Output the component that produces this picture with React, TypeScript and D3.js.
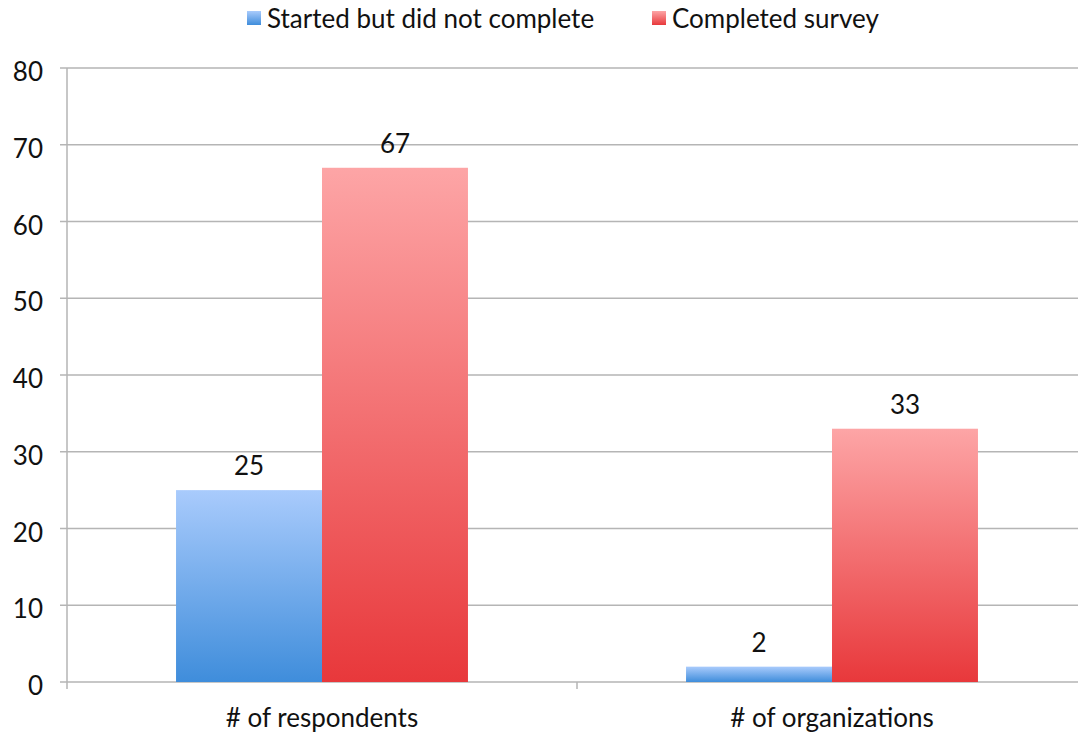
import React, { useEffect, useRef } from "react";
import * as d3 from "d3";

const categories = ["# of respondents", "# of organizations"];
const seriesNames = ["Started but did not complete", "Completed survey"];
const startedValues = [25, 2];
const completedValues = [67, 33];
const yTicks = [0, 10, 20, 30, 40, 50, 60, 70, 80];

const W = 1078;
const H = 733;
const FONT = "Lato, 'Open Sans', sans-serif";
const FS = 26;

export default function App() {
  const ref = useRef<SVGSVGElement>(null);

  useEffect(() => {
    const svg = d3.select(ref.current);
    svg.selectAll("*").remove();

    const left = 67;
    const right = 1087;
    const top = 68;
    const bottom = 682;

    const y = d3.scaleLinear().domain([0, 80]).range([bottom, top]);
    const x0 = d3.scaleBand().domain(categories).range([left, right]).paddingInner(0).paddingOuter(0);
    const x1 = d3
      .scaleBand()
      .domain(seriesNames)
      .range([0, x0.bandwidth()])
      .paddingOuter(0.747)
      .paddingInner(0);

    const defs = svg.append("defs");
    const grads = [
      { id: "gBlue", top: "#a9cbfc", bottom: "#3f8ddb" },
      { id: "gRed", top: "#fda5a6", bottom: "#e8383b" },
    ];
    grads.forEach((g) => {
      const lg = defs
        .append("linearGradient")
        .attr("id", g.id)
        .attr("x1", 0)
        .attr("y1", 0)
        .attr("x2", 0)
        .attr("y2", 1);
      lg.append("stop").attr("offset", "0%").attr("stop-color", g.top);
      lg.append("stop").attr("offset", "100%").attr("stop-color", g.bottom);
    });

    // gridlines
    svg
      .append("g")
      .selectAll("line")
      .data(yTicks)
      .join("line")
      .attr("x1", left - 7)
      .attr("x2", W)
      .attr("y1", (d) => y(d))
      .attr("y2", (d) => y(d))
      .attr("stroke", "#b5b5b5")
      .attr("stroke-width", 1.5);

    // y axis line
    svg
      .append("line")
      .attr("x1", left)
      .attr("x2", left)
      .attr("y1", top)
      .attr("y2", bottom + 7)
      .attr("stroke", "#b5b5b5")
      .attr("stroke-width", 1.5);

    // x middle tick
    svg
      .append("g")
      .selectAll("line")
      .data(categories.slice(1))
      .join("line")
      .attr("x1", (d) => x0(d)!)
      .attr("x2", (d) => x0(d)!)
      .attr("y1", bottom)
      .attr("y2", bottom + 7)
      .attr("stroke", "#b5b5b5")
      .attr("stroke-width", 1.5);

    // y tick labels
    svg
      .append("g")
      .selectAll("text")
      .data(yTicks)
      .join("text")
      .attr("x", 43)
      .attr("y", (d) => y(d) + 13)
      .attr("text-anchor", "end")
      .attr("font-family", FONT)
      .attr("font-size", FS)
      .attr("fill", "#111")
      .text((d) => d);

    const data = categories.map((c, i) => ({
      cat: c,
      vals: [
        { s: seriesNames[0], v: startedValues[i], fill: "url(#gBlue)" },
        { s: seriesNames[1], v: completedValues[i], fill: "url(#gRed)" },
      ],
    }));

    const groups = svg
      .append("g")
      .selectAll("g")
      .data(data)
      .join("g")
      .attr("transform", (d) => `translate(${x0(d.cat)},0)`);

    groups
      .selectAll("rect")
      .data((d) => d.vals)
      .join("rect")
      .attr("x", (d) => x1(d.s)!)
      .attr("width", x1.bandwidth())
      .attr("y", (d) => y(d.v))
      .attr("height", (d) => bottom - y(d.v))
      .attr("fill", (d) => d.fill);

    groups
      .selectAll("text")
      .data((d) => d.vals)
      .join("text")
      .attr("x", (d) => x1(d.s)! + x1.bandwidth() / 2)
      .attr("y", (d) => y(d.v) - 15)
      .attr("text-anchor", "middle")
      .attr("font-family", FONT)
      .attr("font-size", FS)
      .attr("fill", "#111")
      .text((d) => d.v);

    // category labels
    svg
      .append("g")
      .selectAll("text")
      .data(categories)
      .join("text")
      .attr("x", (d) => x0(d)! + x0.bandwidth() / 2)
      .attr("y", 727)
      .attr("text-anchor", "middle")
      .attr("font-family", FONT)
      .attr("font-size", FS)
      .attr("fill", "#111")
      .text((d) => d);

    // legend
    const legendItems = [
      { name: seriesNames[0], fill: "url(#gBlue)", x: 247 },
      { name: seriesNames[1], fill: "url(#gRed)", x: 652 },
    ];
    const lg = svg
      .append("g")
      .selectAll("g")
      .data(legendItems)
      .join("g")
      .attr("transform", (d) => `translate(${d.x},0)`);
    lg.append("rect")
      .attr("x", 0)
      .attr("y", 11)
      .attr("width", 14)
      .attr("height", 14)
      .attr("fill", (d) => d.fill);
    lg.append("text")
      .attr("x", 20)
      .attr("y", 28)
      .attr("font-family", FONT)
      .attr("font-size", FS)
      .attr("fill", "#111")
      .text((d) => d.name);
  }, []);

  return (
    <svg
      ref={ref}
      width={W}
      height={H}
      style={{ position: "absolute", left: 0, top: 0, background: "#fff" }}
    />
  );
}
